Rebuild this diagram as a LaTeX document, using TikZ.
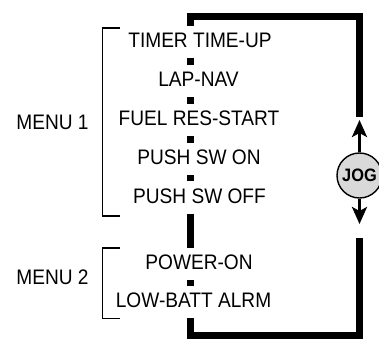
\documentclass[tikz,border=0pt]{standalone}
\usepackage{fontspec}
\setmainfont[FakeStretch=0.91]{Liberation Sans}
\usetikzlibrary{arrows.meta}
\begin{document}
\begin{tikzpicture}[x=1pt,y=-1pt,
  item/.style={anchor=base,inner xsep=2pt,inner ysep=6.5pt,text height=15pt,text depth=4pt,font=\fontsize{21}{25}\selectfont},
  menulabel/.style={inner sep=0pt,font=\fontsize{21}{25}\selectfont},
  spine/.style={line width=7pt,line join=miter,line cap=butt},
  bracket/.style={line width=1.2pt,line join=miter},
  jogarrow/.style={line width=3pt,-{Stealth[length=17pt,width=15pt,inset=4pt]}}]
\useasboundingbox (0,0) rectangle (379,340);
% corner coordinates of the thick loop
\coordinate (tl) at (190.5,16.5);
\coordinate (tr) at (359.5,16.5);
\coordinate (tre) at (359.5,117);
\coordinate (bl) at (190.5,335.5);
\coordinate (br) at (359.5,335.5);
\coordinate (bre) at (359.5,238);
\coordinate (uptip) at (359.5,120);
\coordinate (dntip) at (359.5,224);
% items
\node[item] (t1) at (200,47.5) {TIMER TIME-UP};
\node[item] (t2) at (198.5,86.5) {LAP-NAV};
\node[item] (t3) at (199,125.5) {FUEL RES-START};
\node[item] (t4) at (199,164.5) {PUSH SW ON};
\node[item] (t5) at (199.5,203) {PUSH SW OFF};
\node[item] (t6) at (199,269.5) {POWER-ON};
\node[item] (t7) at (193.5,307.5) {LOW-BATT ALRM};
% thick path
\draw[spine] (t1.north -| tl) -- (tl) -- (tr) -- (tre);
\draw[spine] (t1.south -| tl) -- (t2.north -| tl);
\draw[spine] (t2.south -| tl) -- (t3.north -| tl);
\draw[spine] (t3.south -| tl) -- (t4.north -| tl);
\draw[spine] (t4.south -| tl) -- (t5.north -| tl);
\draw[spine] (t5.south -| tl) -- (t6.north -| tl);
\draw[spine] (t6.south -| tl) -- (t7.north -| tl);
\draw[spine] (t7.south -| tl) -- (bl) -- (br) -- (bre);
% jog dial
\node[circle,draw,line width=1.4pt,fill=black!15,minimum size=45pt,inner sep=0pt,
  font=\fontsize{18}{20}\selectfont\bfseries] (jog) at (359.5,175.5) {JOG};
\draw[jogarrow] (jog.north) -- (uptip);
\draw[jogarrow] (jog.south) -- (dntip);
% menu brackets
\coordinate (m1a) at (120,28);
\coordinate (m1b) at (120,216);
\coordinate (m2a) at (120,248);
\coordinate (m2b) at (120,318.5);
\draw[bracket] (m1a) -- (102.5,28) -- (102.5,216) -- (m1b);
\draw[bracket] (m2a) -- (102.5,248) -- (102.5,318.5) -- (m2b);
\node[menulabel] (menu1) at (52.5,122) {MENU 1};
\node[menulabel] (menu2) at (52.5,277.5) {MENU 2};
\end{tikzpicture}
\end{document}
